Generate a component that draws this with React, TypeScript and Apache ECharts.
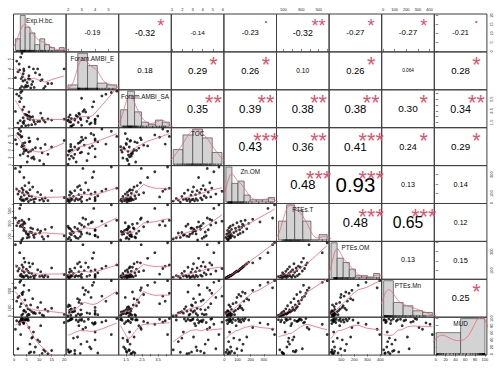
import React, { useEffect, useRef } from "react";
import * as echarts from "echarts";

// ---------------- data (one value per sample) ----------------
const VARIABLES = ["Exp.H.bc.", "Foram.AMBI_E", "Foram.AMBI_SA", "TOC", "Zn.OM", "PTEs.T", "PTEs.OM", "PTEs.Mn", "MUD"];

const expHbc = [8.0, 5.7, 11.8, 3.8, 13.5, 3.0, 10.2, 6.6, 3.5, 7.7, 4.6, 11.2, 2.4, 8.5, 5.2, 12.4, 20.0, 2.8, 7.0, 6.0, 4.0, 10.6, 1.5, 5.5, 3.3, 9.4, 4.9, 2.0, 15.0, 3.6, 6.3, 1.0, 3.1, 7.4, 4.3, 5.9, 3.9, 2.2, 0.5, 2.6];
const foramAmbiE = [2.1, 3.0, 2.0, 4.0, 2.5, 2.2, 3.4, 2.05, 2.75, 4.0, 2.3, 2.9, 2.0, 3.6, 2.6, 2.2, 4.0, 3.0, 2.4, 4.2, 2.1, 2.8, 3.7, 2.25, 3.2, 4.0, 2.15, 4.5, 2.5, 3.5, 2.95, 4.8, 5.6, 2.7, 2.85, 3.3, 3.8, 3.9, 3.1, 5.2];
const foramAmbiSA = [1.55, 1.25, 1.68, 1.4, 1.8, 1.16, 1.6, 1.95, 1.5, 1.72, 1.2, 1.86, 1.65, 1.35, 2.1, 1.52, 1.78, 3.6, 1.3, 2.05, 1.62, 2.3, 1.45, 1.83, 2.6, 1.58, 2.15, 3.8, 1.7, 1.9, 1.75, 3.95, 4.21, 2.0, 2.2, 2.4, 2.85, 3.3, 2.45, 4.1];
const toc = [1.8, 2.75, 1.1, 3.2, 2.45, 3.5, 1.6, 2.9, 3.95, 2.1, 3.05, 2.65, 2.35, 3.35, 1.4, 3.8, 4.35, 4.8, 1.95, 4.15, 2.85, 3.3, 5.3, 2.2, 3.7, 4.55, 2.98, 5.9, 3.45, 2.55, 4.25, 3.85, 4.9, 3.1, 4.05, 4.7, 3.6, 5.1, 4.45, 5.6];
const znOM = [12, 18, 22, 25, 28, 30, 33, 35, 37, 40, 42, 44, 46, 48, 49, 55, 60, 66, 72, 78, 85, 90, 96, 104, 110, 116, 120, 126, 132, 138, 142, 148, 158, 170, 185, 215, 270, 330, 365, 380];
const ptesT = [85, 135, 60, 195, 105, 45, 155, 235, 70, 120, 178, 98, 260, 140, 80, 212, 112, 280, 162, 92, 228, 185, 315, 128, 252, 205, 148, 340, 245, 292, 170, 270, 355, 220, 305, 370, 328, 540, 390, 595];
const ptesOM = [22, 26, 30, 28, 34, 36, 38, 33, 40, 42, 45, 44, 47, 49, 46, 50, 58, 62, 70, 76, 82, 88, 95, 92, 99, 108, 115, 122, 128, 135, 140, 147, 160, 172, 190, 182, 230, 290, 375, 395];
const ptesMn = [45, 25, 5, 65, 60, 12, 40, 135, 28, 36, 50, 15, 115, 32, 8, 82, 22, 150, 55, 18, 70, 165, 225, 88, 260, 105, 125, 240, 95, 290, 76, 180, 275, 210, 195, 310, 370, 405, 340, 425];
const mud = [5, 95, 12, 86, 1, 97, 35, 6, 91, 62, 99, 2, 93, 20, 96, 8, 89, 98, 45, 3, 95, 80, 15, 99, 92, 40, 97, 90, 10, 98, 28, 94, 100, 48, 96, 75, 88, 84, 70, 55];

const SAMPLE_DATA = [expHbc, foramAmbiE, foramAmbiSA, toc, znOM, ptesT, ptesOM, ptesMn, mud];

// histogram breaks for the diagonal panels
const HIST_BREAKS = [
  [0, 2, 4, 6, 8, 10, 12, 14, 16, 18, 20],
  [1, 2, 3, 4, 5, 6],
  [1, 1.5, 2, 2.5, 3, 3.5, 4, 4.5],
  [1, 2, 3, 4, 5, 6],
  [0, 50, 100, 150, 200, 250, 300, 350, 400],
  [0, 100, 200, 300, 400, 500, 600],
  [0, 50, 100, 150, 200, 250, 300, 350, 400],
  [0, 100, 200, 300, 400, 500],
  [0, 50, 100],
];

// axis ticks for each variable
const AXIS_TICKS = [
  [0, 5, 10, 15, 20],
  [2, 3, 4, 5],
  [1.5, 2, 2.5, 3, 3.5, 4],
  [1, 2, 3, 4, 5, 6],
  [0, 100, 200, 300],
  [100, 200, 300, 400, 500, 600],
  [100, 200, 300, 400],
  [0, 100, 200, 300, 400],
  [0, 20, 40, 60, 80, 100],
];
// tick labels printed on each outer side (by variable index)
const BOTTOM_LABELS: Record<number, number[]> = {
  0: [0, 5, 10, 15, 20],
  2: [1.5, 2.5, 3.5],
  4: [0, 100, 200, 300],
  6: [100, 200, 300, 400],
  8: [0, 20, 40, 60, 80, 100],
};
const TOP_LABELS: Record<number, number[]> = {
  1: [2, 3, 4, 5],
  3: [1, 2, 3, 4, 5, 6],
  5: [100, 300, 500],
  7: [0, 100, 200, 300, 400],
};
const LEFT_LABELS: Record<number, number[]> = {
  1: [2, 3, 4, 5],
  3: [1, 2, 3, 4, 5, 6],
  5: [100, 300, 500],
  7: [0, 100, 300],
};
const RIGHT_LABELS: Record<number, number[]> = {
  0: [0, 5, 10, 15, 20],
  2: [1.5, 2.5, 3.5],
  4: [0, 100, 300],
  6: [100, 300],
  8: [0, 20, 40, 60, 80, 100],
};

// correlation coefficients and significance stars (upper panels, row by row)
const CORR_LABELS = [
  ["-0.19", "-0.32", "-0.14", "-0.23", "-0.32", "-0.27", "-0.27", "-0.21"],
  ["0.18", "0.29", "0.26", "0.10", "0.26", "0.064", "0.28"],
  ["0.35", "0.39", "0.38", "0.38", "0.30", "0.34"],
  ["0.43", "0.36", "0.41", "0.24", "0.29"],
  ["0.48", "0.93", "0.13", "0.14"],
  ["0.48", "0.65", "0.12"],
  ["0.13", "0.15"],
  ["0.25"],
];
const SIG_LABELS = [
  ["", "*", "", ".", "**", "*", "*", "."],
  ["", "*", "*", "", "*", "", "*"],
  ["**", "**", "**", "**", "*", "**"],
  ["***", "**", "***", "*", "*"],
  ["***", "***", "", ""],
  ["***", "***", ""],
  ["", ""],
  ["*"],
];

// ---------------- layout ----------------
const NV = 9;
const X0 = 13.5;
const Y0 = 14;
const CW = 52.6;
const CH = 37.9;
const FONT = "'Liberation Sans', Arial, Helvetica, sans-serif";
const RED = "#DF536B";
const LINE_RED = "#F06272";

// ---------------- helpers ----------------
function usr(v: number[]): [number, number] {
  const mn = Math.min(...v);
  const mx = Math.max(...v);
  const d = (mx - mn) * 0.04;
  return [mn - d, mx + d];
}

function lowest(x: number[], y: number[], n: number, xs: number, nleft: number, nright: number, w: number[], userw: boolean, rw: number[]): number | null {
  const range = x[n - 1] - x[0];
  const h = Math.max(xs - x[nleft], x[nright] - xs);
  const h9 = 0.999 * h;
  const h1 = 0.001 * h;
  let a = 0;
  let j = nleft;
  while (j < n) {
    w[j] = 0;
    const r = Math.abs(x[j] - xs);
    if (r <= h9) {
      if (r <= h1) w[j] = 1;
      else w[j] = Math.pow(1 - Math.pow(r / h, 3), 3);
      if (userw) w[j] *= rw[j];
      a += w[j];
    } else if (x[j] > xs) break;
    j++;
  }
  const nrt = j - 1;
  if (a <= 0) return null;
  for (j = nleft; j <= nrt; j++) w[j] /= a;
  if (h > 0) {
    a = 0;
    for (j = nleft; j <= nrt; j++) a += w[j] * x[j];
    let b = xs - a;
    let c = 0;
    for (j = nleft; j <= nrt; j++) c += w[j] * (x[j] - a) * (x[j] - a);
    if (Math.sqrt(c) > 0.001 * range) {
      b /= c;
      for (j = nleft; j <= nrt; j++) w[j] *= b * (x[j] - a) + 1;
    }
  }
  let ys = 0;
  for (j = nleft; j <= nrt; j++) ys += w[j] * y[j];
  return ys;
}

function lowess(xIn: number[], yIn: number[], f = 2 / 3, iter = 3): number[][] {
  const n = xIn.length;
  const order = xIn.map((_, i) => i).sort((a, b) => xIn[a] - xIn[b]);
  const x = order.map((i) => xIn[i]);
  const y = order.map((i) => yIn[i]);
  const ns = Math.max(2, Math.min(n, Math.floor(f * n + 1e-7)));
  const ys = new Array(n).fill(0);
  const rw = new Array(n).fill(1);
  const res = new Array(n).fill(0);
  const w = new Array(n).fill(0);
  for (let it = 1; it <= iter + 1; it++) {
    let nleft = 0;
    let nright = ns - 1;
    for (let i = 0; i < n; i++) {
      while (nright < n - 1) {
        const d1 = x[i] - x[nleft];
        const d2 = x[nright + 1] - x[i];
        if (d1 <= d2) break;
        nleft++;
        nright++;
      }
      const v = lowest(x, y, n, x[i], nleft, nright, w, it > 1, rw);
      ys[i] = v === null ? y[i] : v;
    }
    if (it > iter) break;
    for (let i = 0; i < n; i++) res[i] = y[i] - ys[i];
    const sc = res.reduce((s, r) => s + Math.abs(r), 0) / n;
    const absr = res.map((r) => Math.abs(r)).sort((a, b) => a - b);
    const m1 = Math.floor(n / 2);
    const cmad = n % 2 === 0 ? 3 * (absr[m1 - 1] + absr[m1]) : 6 * absr[m1];
    if (cmad < 1e-7 * sc) break;
    const c9 = 0.999 * cmad;
    const c1 = 0.001 * cmad;
    for (let i = 0; i < n; i++) {
      const r = Math.abs(res[i]);
      rw[i] = r <= c1 ? 1 : r <= c9 ? Math.pow(1 - (r / cmad) * (r / cmad), 2) : 0;
    }
  }
  return x.map((xv, i) => [xv, ys[i]]);
}

function density(v: number[]): number[][] {
  const n = v.length;
  const s = [...v].sort((a, b) => a - b);
  const mean = v.reduce((a, b) => a + b, 0) / n;
  const sd = Math.sqrt(v.reduce((a, b) => a + (b - mean) * (b - mean), 0) / (n - 1));
  const q = (p: number) => {
    const h = (n - 1) * p;
    const lo = Math.floor(h);
    const hi = Math.min(lo + 1, n - 1);
    return s[lo] + (h - lo) * (s[hi] - s[lo]);
  };
  let lo = Math.min(sd, (q(0.75) - q(0.25)) / 1.34);
  if (!(lo > 0)) lo = sd || 1;
  const bw = 0.9 * lo * Math.pow(n, -0.2);
  const from = s[0] - 3 * bw;
  const to = s[n - 1] + 3 * bw;
  const M = 220;
  const out: number[][] = [];
  for (let k = 0; k < M; k++) {
    const xx = from + ((to - from) * k) / (M - 1);
    let d = 0;
    for (const xi of v) {
      const z = (xx - xi) / bw;
      d += Math.exp(-0.5 * z * z);
    }
    out.push([xx, d / (n * bw * Math.sqrt(2 * Math.PI))]);
  }
  return out;
}

function histogram(v: number[], br: number[]): number[][] {
  const counts = new Array(br.length - 1).fill(0);
  for (const x of v) {
    for (let k = 0; k < br.length - 1; k++) {
      if ((x > br[k] || (k === 0 && x === br[0])) && x <= br[k + 1]) {
        counts[k]++;
        break;
      }
    }
  }
  return counts.map((c, k) => [br[k], br[k + 1], c / (v.length * (br[k + 1] - br[k]))]);
}

function emWidth(t: string): number {
  let w = 0;
  for (const ch of t) w += ch === "." ? 0.278 : ch === "-" ? 0.333 : 0.556;
  return w;
}

function buildOption() {
  const grid: any[] = [];
  const xAxis: any[] = [];
  const yAxis: any[] = [];
  const series: any[] = [];
  const graphics: any[] = [];

  const tickStyle = { color: "#333", width: 0.6 };
  const labelBase = { fontSize: 4, color: "#222", fontFamily: FONT };

  for (let i = 0; i < NV; i++) {
    for (let j = 0; j < NV; j++) {
      const gi = i * NV + j;
      const left = X0 + j * CW;
      const top = Y0 + i * CH;
      grid.push({ left, top, width: CW, height: CH, show: true, borderColor: "#3f3f3f", borderWidth: 1, backgroundColor: "transparent" });
      const [xmn, xmx] = usr(SAMPLE_DATA[j]);
      const [ymn, ymx] = usr(SAMPLE_DATA[i]);

      let xPos: string | null = null;
      let xLabels: number[] = [];
      if (i === 0 && TOP_LABELS[j]) { xPos = "top"; xLabels = TOP_LABELS[j]; }
      if (i === NV - 1 && BOTTOM_LABELS[j]) { xPos = "bottom"; xLabels = BOTTOM_LABELS[j]; }
      let yPos: string | null = null;
      let yLabels: number[] = [];
      if (j === 0 && LEFT_LABELS[i]) { yPos = "left"; yLabels = LEFT_LABELS[i]; }
      if (j === NV - 1 && RIGHT_LABELS[i]) { yPos = "right"; yLabels = RIGHT_LABELS[i]; }

      xAxis.push({
        gridIndex: gi, type: "value", min: xmn, max: xmx, show: !!xPos, position: xPos || "bottom",
        axisLine: { show: false }, splitLine: { show: false },
        axisTick: { show: !!xPos, length: 2.5, inside: false, customValues: AXIS_TICKS[j], lineStyle: tickStyle },
        axisLabel: { show: !!xPos, customValues: xLabels, margin: 2.5, ...labelBase },
      });
      yAxis.push({
        gridIndex: gi, type: "value", min: ymn, max: ymx, show: !!yPos, position: yPos || "left",
        axisLine: { show: false }, splitLine: { show: false },
        axisTick: { show: !!yPos, length: 2.5, inside: false, customValues: AXIS_TICKS[i], lineStyle: tickStyle },
        axisLabel: { show: !!yPos, customValues: yLabels, margin: 2.5, rotate: 90, ...labelBase },
      });

      if (i > j) {
        const xs = SAMPLE_DATA[j];
        const ys = SAMPLE_DATA[i];
        series.push({
          type: "scatter", xAxisIndex: gi, yAxisIndex: gi, symbol: "circle", symbolSize: 2.8,
          itemStyle: { color: "#000" }, data: xs.map((x, k) => [x, ys[k]]), silent: true, clip: false,
        });
        series.push({
          type: "line", xAxisIndex: gi, yAxisIndex: gi, showSymbol: false, symbol: "none", smooth: false,
          lineStyle: { color: LINE_RED, width: 0.8 }, data: lowess(xs, ys), silent: true, clip: true, z: 3,
        });
      } else if (i < j) {
        const txt = CORR_LABELS[i][j - i - 1];
        const sig = SIG_LABELS[i][j - i - 1];
        const r = Math.abs(parseFloat(txt));
        const baseFs = (0.8 * CW) / emWidth(txt);
        const fs = (baseFs * (r + 0.3)) / 1.3;
        graphics.push({
          type: "text", x: left + CW / 2, y: top + CH / 2, z: 100, silent: true,
          style: { text: txt, fontSize: fs, lineHeight: fs * 0.8, fontFamily: FONT, fill: "#000", align: "center", verticalAlign: "middle", textAlign: "center", textVerticalAlign: "middle" },
        });
        if (sig) {
          const ty = top + 0.2 * CH;
          const yy = sig === "." ? ty - 0.3 * baseFs : ty + 0.23 * baseFs;
          graphics.push({
            type: "text", x: left + 0.8 * CW, y: yy, z: 100, silent: true,
            style: { text: sig, fontSize: baseFs, lineHeight: baseFs * 0.5, fontFamily: FONT, fill: RED, align: "center", verticalAlign: "middle", textAlign: "center", textVerticalAlign: "middle" },
          });
        }
      }
    }
  }

  // diagonal: histogram + density + rug on their own scales
  for (let k = 0; k < NV; k++) {
    const gi = NV * NV + k;
    const left = X0 + k * CW;
    const top = Y0 + k * CH;
    grid.push({ left, top, width: CW, height: CH, show: false });
    const br = HIST_BREAKS[k];
    const span = br[br.length - 1] - br[0];
    const bins = histogram(SAMPLE_DATA[k], br);
    const maxD = Math.max(...bins.map((b) => b[2]));
    xAxis.push({ gridIndex: gi, type: "value", min: br[0] - 0.04 * span, max: br[br.length - 1] + 0.04 * span, show: false });
    yAxis.push({ gridIndex: gi, type: "value", min: -0.04 * maxD, max: 1.04 * maxD, show: false });
    series.push({
      type: "custom", xAxisIndex: gi, yAxisIndex: gi, silent: true, clip: true,
      encode: { x: [0, 1], y: 2 },
      data: bins,
      renderItem: (params: any, api: any) => {
        const p0 = api.coord([api.value(0), 0]);
        const p1 = api.coord([api.value(1), api.value(2)]);
        return {
          type: "rect",
          shape: { x: p0[0], y: p1[1], width: p1[0] - p0[0], height: p0[1] - p1[1] },
          style: { fill: "#D3D3D3", stroke: "#4a4a4a", lineWidth: 0.7 },
        };
      },
    });
    series.push({
      type: "line", xAxisIndex: gi, yAxisIndex: gi, showSymbol: false, symbol: "none",
      lineStyle: { color: LINE_RED, width: 0.8 }, data: density(SAMPLE_DATA[k]), silent: true, clip: true, z: 3,
    });
    series.push({
      type: "custom", xAxisIndex: gi, yAxisIndex: gi, silent: true, clip: true,
      encode: { x: 0, y: 1 },
      data: SAMPLE_DATA[k].map((v) => [v, 0]),
      renderItem: (params: any, api: any) => {
        const p = api.coord([api.value(0), 0]);
        const cs = params.coordSys;
        const bottom = cs.y + cs.height;
        return {
          type: "line",
          shape: { x1: p[0], y1: bottom, x2: p[0], y2: bottom - 2 },
          style: { stroke: "#000", lineWidth: 0.6 },
        };
      },
      z: 4,
    });
    graphics.push({
      type: "text", x: left + CW / 2, y: top + 6.2, z: 100, silent: true,
      style: { text: VARIABLES[k], fontSize: 6.4, fontFamily: FONT, fill: "#111", align: "center", verticalAlign: "middle", textAlign: "center", textVerticalAlign: "middle" },
    });
  }

  return {
    animation: false,
    backgroundColor: "#ffffff",
    grid,
    xAxis,
    yAxis,
    series,
    graphic: { elements: graphics },
  };
}

export default function App() {
  const ref = useRef<HTMLDivElement>(null);
  useEffect(() => {
    if (!ref.current) return;
    const chart = echarts.init(ref.current, undefined, { renderer: "svg" });
    chart.setOption(buildOption() as any);
    return () => chart.dispose();
  }, []);
  return <div ref={ref} style={{ position: "fixed", left: 0, top: 0, width: 500, height: 370, background: "#fff" }} />;
}
